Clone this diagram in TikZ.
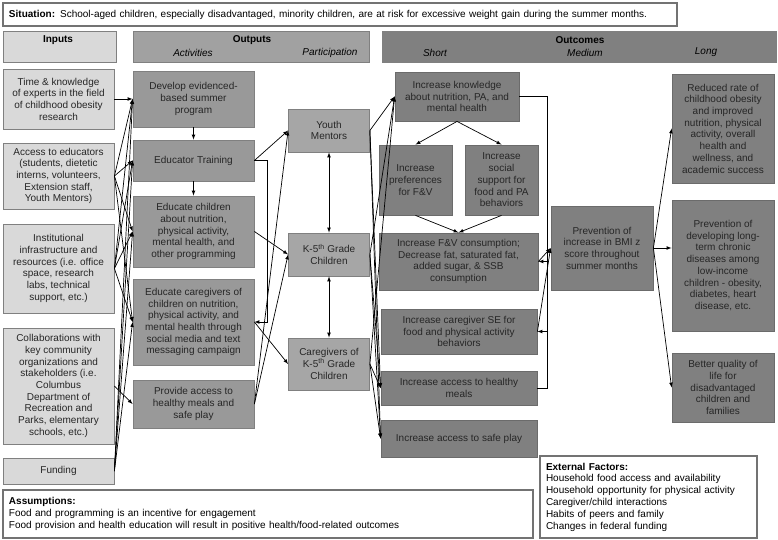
\documentclass[tikz,border=0pt]{standalone}
\usepackage{fontspec}
\setmainfont{Liberation Sans}
\usetikzlibrary{calc}
\tikzset{
	box/.style={rectangle, draw=black!50, line width=0.8pt, align=center, inner sep=1pt, font=\fontsize{10}{11.7}\selectfont, text=black!85},
	inbox/.style={box, fill=black!15, minimum width=111pt},
	actbox/.style={box, fill=black!40, minimum width=121pt},
	partbox/.style={box, fill=black!35, minimum width=81pt},
	outbox/.style={box, fill=black!50, draw=black!58},
	hdrbox/.style={rectangle, draw=black!50, line width=0.8pt, minimum height=31pt},
	hdrtitle/.style={font=\bfseries\fontsize{10}{12}\selectfont, inner sep=0pt},
	hdrsub/.style={font=\itshape\fontsize{10}{12}\selectfont, inner sep=0pt},
	notebox/.style={rectangle, draw=black!55, line width=1.5pt, fill=white, align=left, inner xsep=6pt, font=\fontsize{10}{11.8}\selectfont},
	arr/.style={-latex, line width=0.7pt},
	dblarr/.style={latex-latex, line width=0.7pt},
	link/.style={line width=0.7pt}
}

\begin{document}
\begin{tikzpicture}[x=1pt, y=-1pt]
		%%%%% START %%%%%
		\useasboundingbox (0, 0) rectangle (778, 540);
		
		\node[notebox, text width=662pt, minimum height=23pt] (sit) at (340, 14.5) {\textbf{Situation:} School-aged children, especially disadvantaged, minority children, are at risk for excessive weight gain during the summer months.};
		
		\node[hdrbox, fill=black!15, minimum width=113pt] (hdIn) at (59.5, 46.5) {};
		\node[hdrbox, fill=black!37, minimum width=236pt] (hdOut) at (251, 46.5) {};
		\node[hdrbox, fill=black!50, minimum width=394pt] (hdOutc) at (579, 46.5) {};
		\node[hdrtitle] (tIn) at (58, 40) {Inputs};
		\node[hdrtitle] (tOut) at (252, 40) {Outputs};
		\node[hdrsub] (tAct) at (193, 52.5) {Activities};
		\node[hdrsub] (tPart) at (330, 52.5) {Participation};
		\node[hdrtitle] (tOutc) at (580, 40) {Outcomes};
		\node[hdrsub] (tShort) at (435, 52.5) {Short};
		\node[hdrsub] (tMed) at (585, 52.5) {Medium};
		\node[hdrsub] (tLong) at (706, 52.5) {Long};
		
		% inputs
		\node[inbox, minimum height=60pt] (inTime) at (58.5, 99) {Time \& knowledge\\of experts in the field\\of childhood obesity\\research};
		\node[inbox, minimum height=66pt] (inAccess) at (58.5, 176) {Access to educators\\(students, dietetic\\interns, volunteers,\\Extension staff,\\Youth Mentors)};
		\node[inbox, minimum height=89pt] (inInst) at (58.5, 268.5) {Institutional\\infrastructure and\\resources (i.e. office\\space, research\\labs, technical\\support, etc.)};
		\node[inbox, minimum height=116pt] (inCollab) at (58.5, 386) {Collaborations with\\key community\\organizations and\\stakeholders (i.e.\\Columbus\\Department of\\Recreation and\\Parks, elementary\\schools, etc.)};
		\node[inbox, minimum height=26pt] (inFund) at (58.5, 471) {Funding};
		
		% activities
		\node[actbox, minimum height=56pt] (acDev) at (193.5, 99) {Develop evidenced-\\based summer\\program};
		\node[actbox, minimum height=41pt] (acTrain) at (193.5, 160.5) {Educator Training};
		\node[actbox, minimum height=71pt] (acChild) at (193.5, 231.5) {Educate children\\about nutrition,\\physical activity,\\mental health, and\\other programming};
		\node[actbox, minimum height=86pt] (acCare) at (193.5, 322) {Educate caregivers of\\children on nutrition,\\physical activity, and\\mental health through\\social media and text\\messaging campaign};
		\node[actbox, minimum height=48pt] (acMeals) at (193.5, 404) {Provide access to\\healthy meals and\\safe play};
		
		% participation
		\node[partbox, minimum height=43pt] (paYouth) at (329, 130.5) {Youth\\Mentors};
		\node[partbox, minimum height=43pt] (paKids) at (329, 254.5) {K-5\textsuperscript{th} Grade\\Children};
		\node[partbox, minimum height=52pt] (paCare) at (329, 364) {Caregivers of\\K-5\textsuperscript{th} Grade\\Children};
		
		% short
		\node[outbox, minimum width=124pt, minimum height=49pt] (stKnow) at (457, 96.5) {Increase knowledge\\about nutrition, PA, and\\mental health};
		\node[outbox, minimum width=73pt, minimum height=70pt] (stPref) at (415.5, 180) {Increase\\preferences\\for F\&V};
		\node[outbox, minimum width=73pt, minimum height=70pt] (stSocial) at (501.5, 180) {Increase\\social\\support for\\food and PA\\behaviors};
		\node[outbox, minimum width=159pt, minimum height=57pt] (stFV) at (458.5, 261.5) {Increase F\&V consumption;\\Decrease fat, saturated fat,\\added sugar, \& SSB\\consumption};
		\node[outbox, minimum width=156pt, minimum height=45pt] (stSE) at (459, 331.5) {Increase caregiver SE for\\food and physical activity\\behaviors};
		\node[outbox, minimum width=156pt, minimum height=34pt] (stMeals) at (459, 388) {Increase access to healthy\\meals};
		\node[outbox, minimum width=156pt, minimum height=37pt] (stPlay) at (459, 438.5) {Increase access to safe play};
		
		% medium and long
		\node[outbox, minimum width=102pt, minimum height=84pt] (mdBMI) at (602, 248) {Prevention of\\increase in BMI z\\score throughout\\summer months};
		\node[outbox, minimum width=102pt, minimum height=109pt] (lgRate) at (723, 128.5) {Reduced rate of\\childhood obesity\\and improved\\nutrition, physical\\activity, overall\\health and\\wellness, and\\academic success};
		\node[outbox, minimum width=102pt, minimum height=131pt] (lgPrev) at (723, 265.5) {Prevention of\\developing long-\\term chronic\\diseases among\\low-income\\children - obesity,\\diabetes, heart\\disease, etc.};
		\node[outbox, minimum width=102pt, minimum height=69pt] (lgLife) at (723, 387.5) {Better quality of\\life for\\disadvantaged\\children and\\families};
		
		\node[notebox, text width=518pt, minimum height=48pt] (assume) at (268, 514) {\textbf{Assumptions:}\\Food and programming is an incentive for engagement\\Food provision and health education will result in positive health/food-related outcomes};
		\node[notebox, text width=205pt, minimum height=82pt] (extern) at (648.5, 497) {\textbf{External Factors:}\\Household food access and availability\\Household opportunity for physical activity\\Caregiver/child interactions\\Habits of peers and family\\Changes in federal funding};
		
		% inputs to activities
		\draw[arr] (inTime.east) -- (acDev.west);
		\draw[arr] (inAccess.east) -- (acDev.west);
		\draw[arr] (inAccess.east) -- (acTrain.west);
		\draw[arr] (inAccess.east) -- (acChild.west);
		\draw[arr] (inAccess.east) -- (acCare.west);
		\draw[arr] (inInst.east) -- (acDev.west);
		\draw[arr] (inInst.east) -- (acTrain.west);
		\draw[arr] (inInst.east) -- (acChild.west);
		\draw[arr] (inInst.east) -- (acCare.west);
		\draw[arr] (inCollab.east) -- (acMeals.west);
		\draw[arr] (inFund.east) -- (acDev.west);
		\draw[arr] (inFund.east) -- (acTrain.west);
		\draw[arr] (inFund.east) -- (acChild.west);
		\draw[arr] (inFund.east) -- (acCare.west);
		
		% activities to participation
		\draw[arr] (acDev.south) -- (acTrain.north);
		\draw[arr] (acTrain.south) -- (acChild.north);
		\draw[arr] (acTrain.east) -- ++(13, 0) |- (acCare.east);
		\draw[arr] (acTrain.east) -- (paYouth.west);
		\draw[arr] (acChild.east) -- (paKids.west);
		\draw[arr] (acCare.east) -- (paCare.west);
		\draw[arr] (acMeals.east) -- (paYouth.west);
		\draw[arr] (acMeals.east) -- (paKids.west);
		\draw[dblarr] (paYouth.south) -- (paKids.north);
		\draw[dblarr] (paKids.south) -- (paCare.north);
		
		% participation to outcomes
		\draw[arr] (paYouth.east) -- (stKnow.west);
		\draw[arr] (paKids.east) -- (stKnow.west);
		\draw[arr] (paCare.east) -- (stKnow.west);
		\draw[arr] (paYouth.east) -- (stMeals.west);
		\draw[arr] (paKids.east) -- (stMeals.west);
		\draw[arr] (paCare.east) -- (stMeals.west);
		\draw[arr] (paYouth.east) -- (stPlay.west);
		\draw[arr] (paKids.east) -- (stPlay.west);
		\draw[arr] (paCare.east) -- (stPlay.west);
		
		\draw[arr] (stKnow.south) -- (stPref.north);
		\draw[arr] (stKnow.south) -- (stSocial.north);
		\draw[arr] (stPref.south) -- (stFV.north);
		\draw[arr] (stSocial.south) -- (stFV.north);
		
		\coordinate (brk) at (547, 96.5);
		\draw[link] (stKnow.east) -- (brk) |- (stMeals.east);
		\draw[arr] (brk |- stFV.east) -- (stFV.east);
		\draw[arr] (brk |- stSE.east) -- (stSE.east);
		\draw[arr] (stFV.east) -- (mdBMI.west);
		\draw[arr] (stSE.east) -- (mdBMI.west);
		
		\draw[arr] (mdBMI.east) -- (lgRate.west);
		\draw[arr] (mdBMI.east) -- (mdBMI.east -| lgPrev.west);
		\draw[arr] (mdBMI.east) -- (lgLife.west);
		
		%%%%% END %%%%%
	\end{tikzpicture}
\end{document}
